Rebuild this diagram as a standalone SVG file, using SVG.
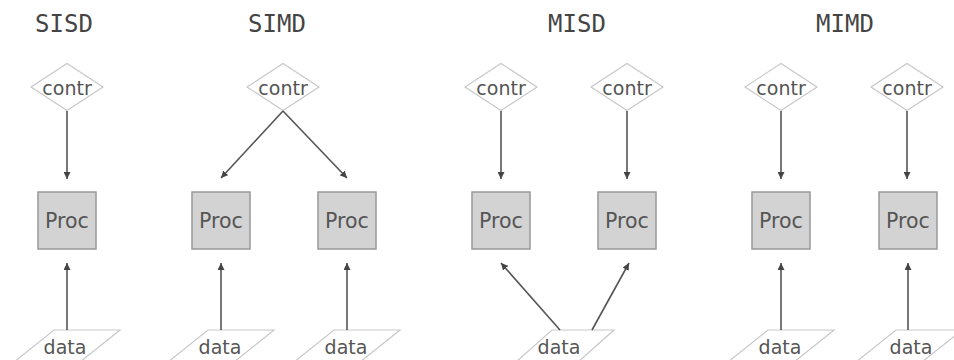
<svg xmlns="http://www.w3.org/2000/svg" width="954" height="360" viewBox="0 0 954 360">
<defs>
<marker id="ah" viewBox="0 0 10 10" refX="10" refY="5" markerWidth="7" markerHeight="7" markerUnits="userSpaceOnUse" orient="auto">
<path d="M0,0 L10,5 L0,10 z" fill="#444"/>
</marker>
<style>
.title{font-family:"DejaVu Sans Mono",monospace;font-size:24px;fill:#444;text-anchor:middle}
.lbl{font-family:"DejaVu Sans",sans-serif;font-size:19px;fill:#555;text-anchor:middle}
.big{font-size:20.5px}
.dia{fill:#fff;stroke:#c8c8c8;stroke-width:1.2}
.proc{fill:#d3d3d3;stroke:#999;stroke-width:1.5}
.dat{fill:#fff;stroke:#c8c8c8;stroke-width:1.2}
.arr{stroke:#555;stroke-width:1.6;fill:none;marker-end:url(#ah)}
</style>
</defs>
<rect width="954" height="360" fill="#fff"/>
<g id="titles">
<text class="title" x="64" y="32">SISD</text>
<text class="title" x="277" y="32">SIMD</text>
<text class="title" x="577" y="32">MISD</text>
<text class="title" x="845" y="32">MIMD</text>
</g>
<g id="contr-sisd"><path class="dia" d="M31,87 L67,63.5 L103,87 L67,110.5 Z"/><text class="lbl" x="67" y="95">contr</text></g>
<g id="contr-simd"><path class="dia" d="M247,87 L283,63.5 L319,87 L283,110.5 Z"/><text class="lbl" x="283" y="95">contr</text></g>
<g id="contr-misd1"><path class="dia" d="M465,87 L501,63.5 L537,87 L501,110.5 Z"/><text class="lbl" x="501" y="95">contr</text></g>
<g id="contr-misd2"><path class="dia" d="M591,87 L627,63.5 L663,87 L627,110.5 Z"/><text class="lbl" x="627" y="95">contr</text></g>
<g id="contr-mimd1"><path class="dia" d="M745,87 L781,63.5 L817,87 L781,110.5 Z"/><text class="lbl" x="781" y="95">contr</text></g>
<g id="contr-mimd2"><path class="dia" d="M871,87 L907,63.5 L943,87 L907,110.5 Z"/><text class="lbl" x="907" y="95">contr</text></g>
<g id="proc-sisd"><rect class="proc" x="38" y="192" width="58" height="57"/><text class="lbl big" x="67" y="228">Proc</text></g>
<g id="proc-simd1"><rect class="proc" x="192" y="192" width="58" height="57"/><text class="lbl big" x="221" y="228">Proc</text></g>
<g id="proc-simd2"><rect class="proc" x="318" y="192" width="58" height="57"/><text class="lbl big" x="347" y="228">Proc</text></g>
<g id="proc-misd1"><rect class="proc" x="472" y="192" width="58" height="57"/><text class="lbl big" x="501" y="228">Proc</text></g>
<g id="proc-misd2"><rect class="proc" x="598" y="192" width="58" height="57"/><text class="lbl big" x="627" y="228">Proc</text></g>
<g id="proc-mimd1"><rect class="proc" x="752" y="192" width="58" height="57"/><text class="lbl big" x="781" y="228">Proc</text></g>
<g id="proc-mimd2"><rect class="proc" x="879" y="192" width="58" height="57"/><text class="lbl big" x="908" y="228">Proc</text></g>
<g id="data-sisd"><path class="dat" d="M54,330 L120,330 L80,362 L14,362 Z"/><text class="lbl" x="65" y="354">data</text></g>
<g id="data-simd1"><path class="dat" d="M208,330 L274,330 L234,362 L168,362 Z"/><text class="lbl" x="220" y="354">data</text></g>
<g id="data-simd2"><path class="dat" d="M334,330 L400,330 L360,362 L294,362 Z"/><text class="lbl" x="346" y="354">data</text></g>
<g id="data-misd"><path class="dat" d="M552,330 L614,330 L578,362 L516,362 Z"/><text class="lbl" x="559" y="354">data</text></g>
<g id="data-mimd1"><path class="dat" d="M768,330 L834,330 L794,362 L728,362 Z"/><text class="lbl" x="780" y="354">data</text></g>
<g id="data-mimd2"><path class="dat" d="M896,330 L962,330 L922,362 L856,362 Z"/><text class="lbl" x="911" y="354">data</text></g>
<g id="connectors">
<line class="arr" x1="67" y1="111" x2="67" y2="179"/>
<line class="arr" x1="283" y1="111" x2="221" y2="178"/>
<line class="arr" x1="283" y1="111" x2="347" y2="178"/>
<line class="arr" x1="501" y1="111" x2="501" y2="179"/>
<line class="arr" x1="627" y1="111" x2="627" y2="179"/>
<line class="arr" x1="781" y1="111" x2="781" y2="179"/>
<line class="arr" x1="907" y1="111" x2="907" y2="179"/>
<line class="arr" x1="67" y1="330" x2="67" y2="263"/>
<line class="arr" x1="221" y1="330" x2="221" y2="263"/>
<line class="arr" x1="347" y1="330" x2="347" y2="263"/>
<line class="arr" x1="560" y1="330" x2="501" y2="263"/>
<line class="arr" x1="592" y1="330" x2="629" y2="263"/>
<line class="arr" x1="781" y1="330" x2="781" y2="263"/>
<line class="arr" x1="908" y1="330" x2="908" y2="263"/>
</g>
</svg>
